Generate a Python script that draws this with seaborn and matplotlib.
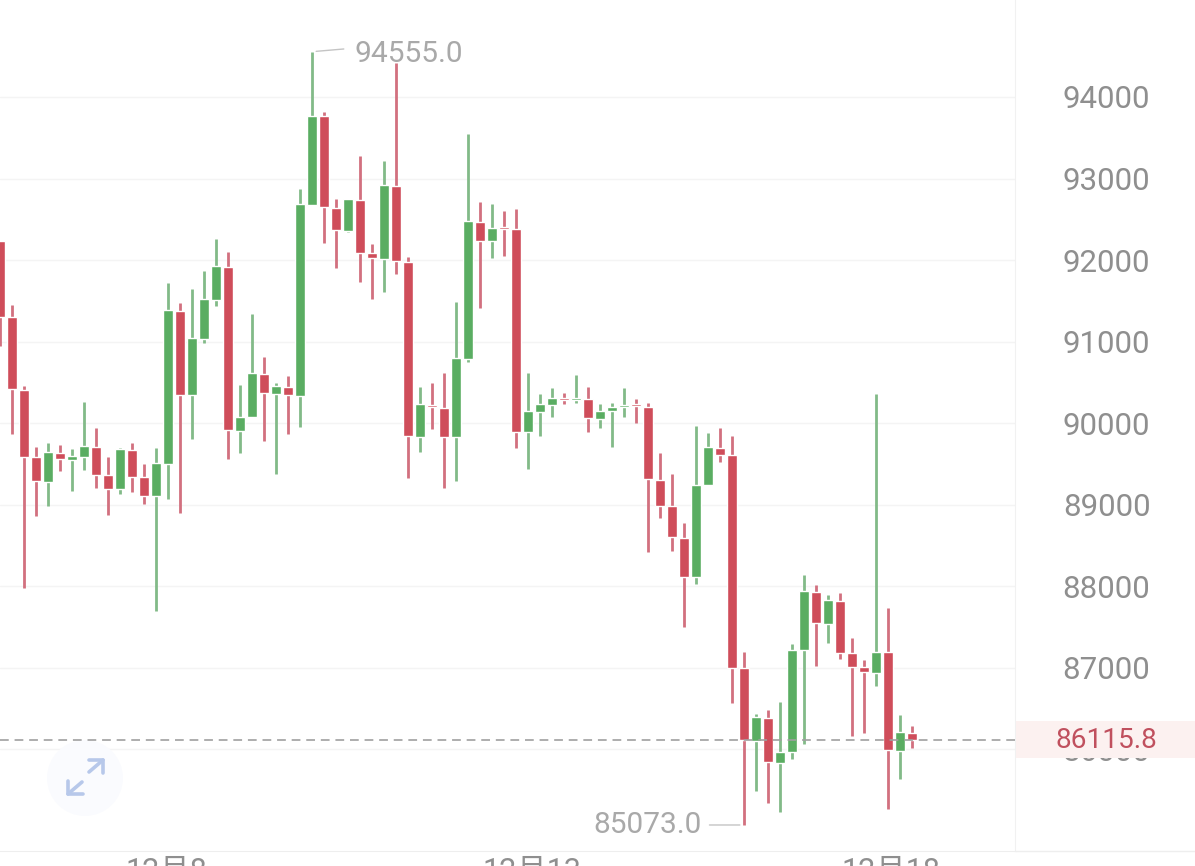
# import required modules
import matplotlib
matplotlib.use('Agg')
import matplotlib.pyplot as plt
from matplotlib.lines import Line2D
from matplotlib.patches import Circle, Rectangle
from matplotlib.transforms import IdentityTransform
import pandas as pd
import seaborn as sns

# candle values
highs = [92234, 91449, 90456, 89708, 89757, 89732, 89683, 90260, 89941, 89585,
         89696, 89757, 89499, 89696, 91719, 91474, 91645, 91866, 92258, 92099,
         90468, 91339, 90811, 90493, 90578, 92871, 94555, 93816, 92749, 92749,
         93276, 92197, 93215, 94416, 92038, 90444, 90493, 90615, 91486, 93546,
         92712, 92688, 92602, 92626, 90615, 90358, 90431, 90370, 90591, 90444,
         90235, 90247, 90431, 90296, 90247, 89634, 89377, 88776, 89965, 89880,
         89941, 89843, 87194, 86434, 86483, 86581, 87292, 88138, 88016, 87893,
         87918, 87366, 87096, 90358, 87734, 86422, 86287]
lows = [90946, 89867, 87979, 88862, 88984, 89414, 89168, 89426, 89205, 88874,
        89132, 89156, 89009, 87697, 89070, 88899, 89806, 90983, 91437, 89561,
        89634, 90076, 89781, 89377, 89867, 89953, 92675, 92209, 91903, 92344,
        91731, 91523, 91608, 91829, 89328, 89647, 89929, 89205, 89291, 90750,
        91412, 92025, 92050, 89696, 89438, 89843, 90076, 90235, 90247, 89892,
        89941, 89708, 90076, 90002, 88420, 88837, 88433, 87501, 88028, 89242,
        89524, 86569, 85073, 85490, 85343, 85232, 85882, 86066, 87023, 87305,
        87108, 86164, 86201, 86777, 85269, 85637, 86017]
opens = [92234, 91302, 90407, 89585, 89279, 89634, 89548, 89585, 89708, 89365,
         89193, 89671, 89340, 89107, 89499, 91376, 90346, 91032, 91510, 91915,
         89904, 90076, 90603, 90358, 90444, 90333, 92675, 93767, 92639, 92356,
         92737, 92087, 92013, 92908, 91976, 89831, 90223, 90186, 89831, 90787,
         92467, 92234, 92406, 92381, 89892, 90137, 90223, 90309, 90284, 90296,
         90051, 90149, 90198, 90223, 90198, 89303, 88984, 88592, 88114, 89242,
         89696, 89610, 86998, 86103, 86385, 85833, 85968, 87219, 87930, 87538,
         87820, 87182, 87010, 86937, 87194, 85980, 86201]
closes = [91302, 90419, 89585, 89291, 89647, 89561, 89598, 89720, 89365, 89193,
          89683, 89340, 89107, 89512, 91388, 90346, 91044, 91523, 91927, 89916,
          90076, 90615, 90370, 90456, 90346, 92688, 93767, 92651, 92369, 92749,
          92087, 92025, 92921, 91989, 89843, 90235, 90198, 89831, 90799, 92479,
          92234, 92393, 92381, 89892, 90149, 90235, 90309, 90284, 90309, 90063,
          90149, 90198, 90223, 90211, 89316, 88984, 88604, 88114, 89242, 89708,
          89610, 86998, 86115, 86397, 85845, 85968, 87219, 87942, 87550, 87832,
          87182, 87010, 86949, 87194, 85992, 86213, 86115.8]

price_ticks = [86000, 87000, 88000, 89000, 90000, 91000, 92000, 93000, 94000]
date_positions = [13.85, 44.3, 74.2]
date_labels = ['12月8', '12月13', '12月18']
last_price = 86115.8

GREEN = '#5aad62'
RED = '#cf4d5a'
GREEN_WICK = '#82ba88'
RED_WICK = '#d2707f'
GREY = '#8f8f8f'
LABEL_GREY = '#a9a9a9'

sns.set_style('white')
plt.rcParams['font.family'] = ['Roboto', 'Noto Sans CJK SC', 'DejaVu Sans']

W, H = 1195, 866
fig = plt.figure(figsize=(W / 100, H / 100), dpi=100)
ax = fig.add_axes([0, 15 / H, 1015 / W, 851 / H])

# build tables for seaborn
candles = pd.DataFrame({'i': range(len(opens)), 'open': opens, 'close': closes,
                        'high': highs, 'low': lows})
candles['dir'] = ['up' if c > o else 'down' for o, c in zip(opens, closes)]
candles['bottom'] = candles[['open', 'close']].min(axis=1)
candles['height'] = (candles['close'] - candles['open']).abs().clip(lower=24)

wicks = candles.melt(id_vars=['i', 'dir'], value_vars=['low', 'high'], value_name='price')

# gridlines under everything
for p in price_ticks:
    ax.axhline(p, color='#f4f4f4', lw=1, zorder=0)

# wicks
sns.lineplot(data=wicks, x='i', y='price', units='i', estimator=None, hue='dir',
             palette={'up': GREEN_WICK, 'down': RED_WICK}, lw=2,
             solid_capstyle='butt', legend=False, ax=ax, zorder=2)

# bodies
for name, color in [('up', GREEN), ('down', RED)]:
    part = candles[candles['dir'] == name]
    sns.barplot(data=part, x='i', y='height', bottom=part['bottom'], native_scale=True,
                color=color, saturation=1, width=0.8, errorbar=None, ax=ax, zorder=3)

# last price line
ax.axhline(last_price, color='#9f9f9f', lw=1.4, linestyle=(0, (4.5, 3)), alpha=0.85, zorder=4)

# axes
ax.set_xlim(0, 1015 / 12)
ax.set_ylim(84754, 95189)
ax.set_xlabel('')
ax.set_ylabel('')
ax.set_xticks(date_positions)
ax.set_xticklabels(date_labels, fontsize=22, color=GREY)
ax.yaxis.tick_right()
ax.set_yticks(price_ticks)
ax.set_yticklabels([str(p) for p in price_ticks], fontsize=22.5, color=GREY, ha='right')
ax.tick_params(axis='y', length=0, pad=97.5)
ax.tick_params(axis='x', length=0, pad=4.5)
for side in ['top', 'left']:
    ax.spines[side].set_visible(False)
ax.spines['right'].set_color('#f1f1f1')
ax.spines['bottom'].set_color('#eeeeee')
fig.add_artist(Line2D([1015 / W, 1], [15 / H, 15 / H], color='#eeeeee', lw=1))

# max and min labels
ax.annotate('94555.0', xy=(26, 94555), xytext=(42, -2), textcoords='offset pixels',
            fontsize=21.5, color=LABEL_GREY, va='center', ha='left', zorder=6,
            arrowprops=dict(arrowstyle='-', color='#c4c4c4', lw=1, relpos=(0, 0.7),
                            shrinkA=5, shrinkB=3))
ax.annotate('85073.0', xy=(62, 85073), xytext=(-42, 0), textcoords='offset pixels',
            fontsize=21.5, color=LABEL_GREY, va='center', ha='right', zorder=6,
            arrowprops=dict(arrowstyle='-', color='#c4c4c4', lw=1, relpos=(1, 0.5),
                            shrinkA=3, shrinkB=3))

# last price tag, covers most of the 86000 label
px = IdentityTransform()
ax.add_patch(Rectangle((1016, H - 758), W - 1016, 37, transform=px, facecolor='#fcf1f0',
                       edgecolor='none', clip_on=False, zorder=5))
ax.text(1106, H - 740, '86115.8', transform=px, fontsize=20.2, color='#c0505e',
        ha='center', va='center', zorder=6, clip_on=False)

# expand icon
ax.add_patch(Circle((85, H - 778), 38, transform=px, facecolor='#fafbfe', edgecolor='none', zorder=1))
icon_lines = [[(89, 772), (103, 760)], [(89, 760), (103, 760), (103, 773)],
              [(82, 782), (68, 794)], [(68, 781), (68, 794), (83, 794)]]
for line in icon_lines:
    ax.add_line(Line2D([a for a, b in line], [H - b for a, b in line], transform=px,
                       color='#b7c8ea', lw=2.6, zorder=2))

fig.savefig('out.png', dpi=100)
